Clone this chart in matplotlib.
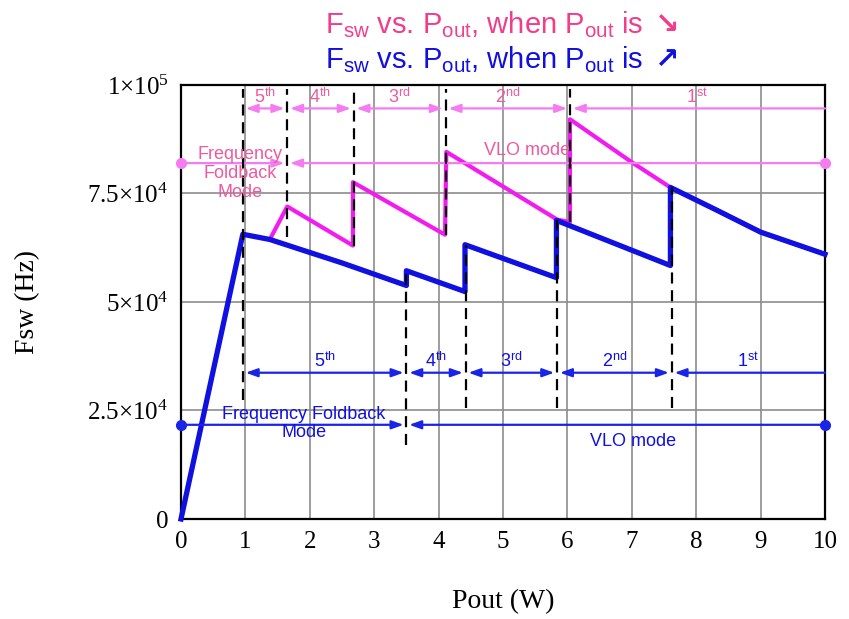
import matplotlib.pyplot as plt
import numpy as np

plt.rcParams['mathtext.fontset'] = 'custom'
plt.rcParams['mathtext.rm'] = 'Liberation Serif'
plt.rcParams['mathtext.sf'] = 'Liberation Sans'
plt.rcParams['mathtext.it'] = 'Liberation Serif:italic'
plt.rcParams['mathtext.fallback'] = 'stixsans'

# Fsw vs Pout, Pout increasing (blue) and decreasing (pink)
blue_x = [0, 0.96, 1.38, 2.5, 3.50, 3.50, 4.41, 4.41, 5.83, 5.83, 7.60, 7.60, 8.3, 9.0, 10]
blue_y = [0, 65600, 64400, 59000, 53800, 57200, 52400, 63200, 55600, 68800, 58400, 76400, 71300, 66100, 61000]

pink_x = [1.40, 1.65, 2.67, 2.67, 4.10, 4.12, 5.84, 6.04, 6.04, 7.0, 7.60, 8.3, 9.0, 10]
pink_y = [65000, 72000, 63000, 77600, 65500, 84600, 69000, 68400, 92100, 82200, 76400, 71300, 66100, 61000]

# phase boundaries (dashed lines) and labels
pink_edges = [0.96, 1.65, 2.68, 4.11, 6.04, 10]
pink_dash_lo = [27500, 65000, 63000, 65500, 68400]
pink_dash_hi = 99000
blue_edges = [0.96, 3.50, 4.42, 5.84, 7.62, 10]
blue_dash_lo = [17000, 25600, 25600, 25600]
blue_dash_hi = [57200, 63200, 68800, 76400]
phase_num = ['5', '4', '3', '2', '1']
phase_suf = ['th', 'th', 'rd', 'nd', 'st']

pink_phase_y = 94600
blue_phase_y = 33700
pink_mode_y = 82000
blue_mode_y = 21700

xticks = list(range(0, 11))
yticks = [0, 25000, 50000, 75000, 100000]
ytick_labels = [r'$0$', r'$2.5{\times}10^{4}$', r'$5{\times}10^{4}$', r'$7.5{\times}10^{4}$', r'$1{\times}10^{5}$']

PINK = '#f21cf0'
PINK_L = '#f47cf0'
PINK_T = '#ee5a9e'
BLUE = '#1010e0'
BLUE_L = '#1a24e6'
SANS = ['Liberation Sans', 'DejaVu Sans']

fig = plt.figure(figsize=(8.49, 6.19), dpi=100)
ax = fig.add_axes([0.2132, 0.1616, 0.7585, 0.7011])

ax.set_xlim(0, 10)
ax.set_ylim(0, 100000)
ax.set_xticks(xticks)
ax.set_xticklabels([str(t) for t in xticks], family='Liberation Serif', fontsize=18)
ax.set_yticks(yticks)
ax.set_yticklabels(ytick_labels, fontsize=18)
ax.tick_params(length=0, pad=9)
ax.grid(True, color='#8c8c8c', lw=1.2)
ax.set_axisbelow(True)
for s in ax.spines.values():
    s.set_linewidth(1.6)

ax.set_xlabel('Pout (W)', family='Liberation Serif', fontsize=20, labelpad=26)
ax.set_ylabel('Fsw (Hz)', family='Liberation Serif', fontsize=20, labelpad=34)

# curves
ax.plot(pink_x, pink_y, color=PINK, lw=3.0, zorder=3, clip_on=False)
ax.plot(blue_x, blue_y, color=BLUE, lw=3.8, zorder=4, clip_on=False)

# dashed phase boundaries
for x, lo in zip(pink_edges[:-1], pink_dash_lo):
    ax.plot([x, x], [lo, pink_dash_hi], color='k', lw=1.6, dashes=(5, 3), zorder=5)
for x, lo, hi in zip(blue_edges[1:-1], blue_dash_lo, blue_dash_hi):
    ax.plot([x, x], [lo, hi], color='k', lw=1.6, dashes=(5, 3), zorder=5)

both = '<|-|>, head_length=0.7, head_width=0.25'
one = '-|>, head_length=0.7, head_width=0.25'


def arrow(x0, x1, y, color, style, sa=2):
    ax.annotate('', xy=(x1, y), xytext=(x0, y),
                arrowprops=dict(arrowstyle=style, color=color, lw=1.6,
                                shrinkA=sa, shrinkB=2, mutation_scale=10),
                zorder=4)


# phase arrows
for edges, y, col, tcol in [(pink_edges, pink_phase_y, PINK_L, PINK_T),
                            (blue_edges, blue_phase_y, BLUE_L, BLUE)]:
    for i in range(5):
        x0, x1 = edges[i], edges[i + 1]
        if i == 4:
            arrow(x1, x0, y, col, one, sa=0)
        else:
            arrow(x0, x1, y, col, both)
        ax.annotate(r'$\mathsf{%s}^{\mathsf{%s}}$' % (phase_num[i], phase_suf[i]),
                    xy=((x0 + x1) / 2, y), xytext=(0, 1), textcoords='offset points',
                    ha='center', va='bottom', color=tcol, fontsize=13)

# mode arrows
for y, split, col in [(pink_mode_y, pink_edges[1], PINK_L),
                      (blue_mode_y, blue_edges[1], BLUE_L)]:
    arrow(0, split, y, col, one, sa=0)
    arrow(10, split, y, col, one, sa=0)
    ax.plot([0, 10], [y, y], 'o', color=col, ms=7, clip_on=False, zorder=6)

ax.text(0.92, 79600, 'Frequency\nFoldback\nMode', ha='center', va='center',
        color=PINK_T, fontsize=13, family=SANS, linespacing=1.15, zorder=6)
ax.text(5.37, 85000, 'VLO mode', ha='center', va='center', color=PINK_T,
        fontsize=13, family=SANS, zorder=6)
ax.text(1.91, 22000, 'Frequency Foldback\nMode', ha='center', va='center',
        color=BLUE, fontsize=13, family=SANS, linespacing=1.15, zorder=6)
ax.text(7.02, 17800, 'VLO mode', ha='center', va='center', color=BLUE,
        fontsize=13, family=SANS, zorder=6)

# two-line title
fig.text(0.59, 1 - 25 / 619,
         r'F$_\mathsf{sw}$ vs. P$_\mathsf{out}$, when P$_\mathsf{out}$ is $\mathbf{\searrow}$',
         ha='center', va='center', color='#f23d8a', fontsize=21, family=SANS)
fig.text(0.59, 1 - 60 / 619,
         r'F$_\mathsf{sw}$ vs. P$_\mathsf{out}$, when P$_\mathsf{out}$ is $\mathbf{\nearrow}$',
         ha='center', va='center', color=BLUE, fontsize=21, family=SANS)

plt.savefig('out.png', dpi=100)
